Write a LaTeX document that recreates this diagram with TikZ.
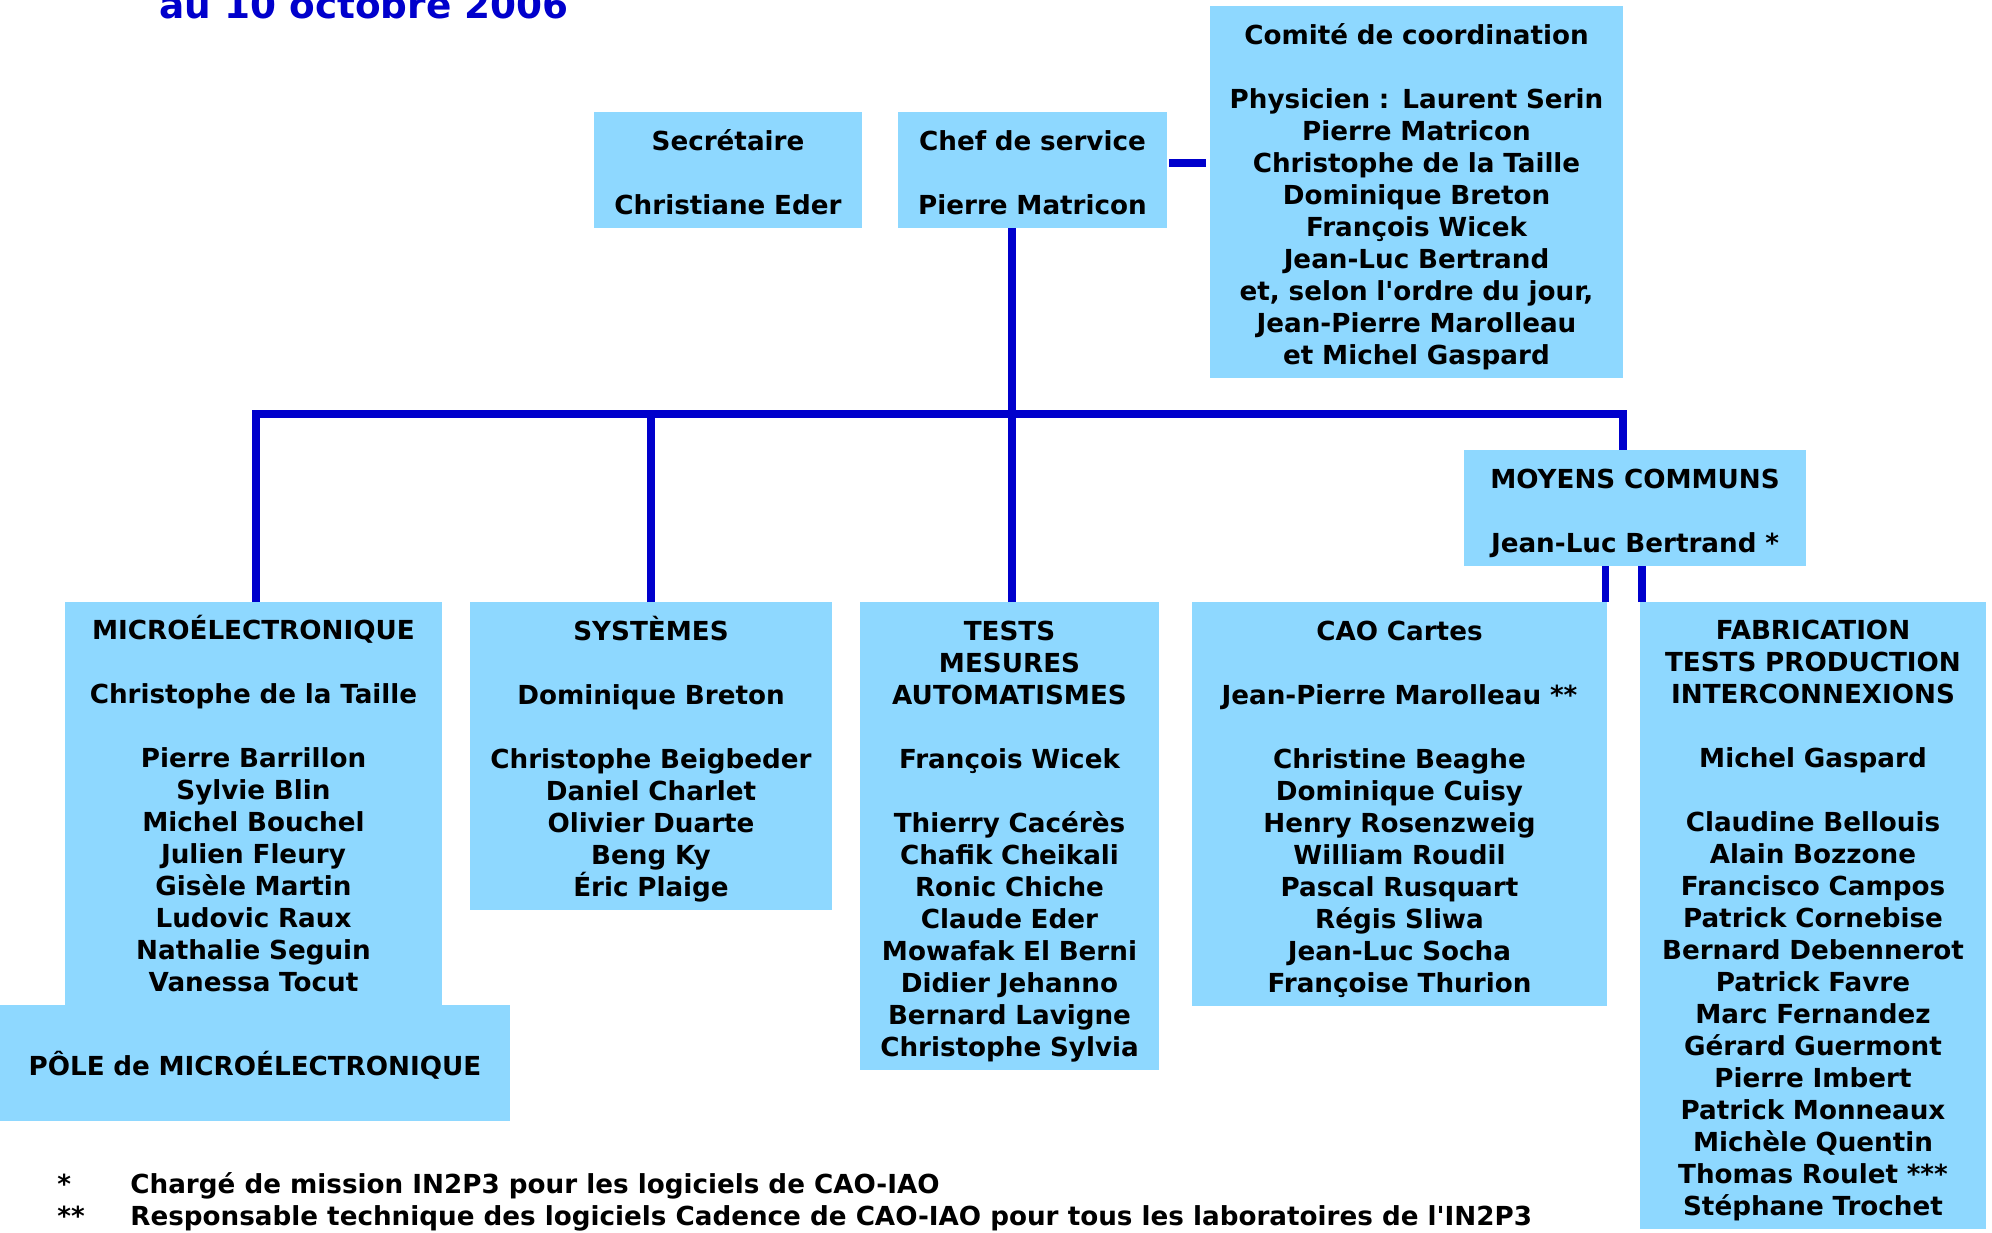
\documentclass[tikz,border=0pt]{standalone}
\usepackage{fontspec}
\setmainfont{DejaVu Sans}
\definecolor{boxblue}{RGB}{142,216,255}
\definecolor{linkblue}{RGB}{0,0,204}
\newcommand{\topstrut}{\rule{0pt}{15.6pt}}
\newcommand{\botstrut}{\rule[-3.2pt]{0pt}{3.2pt}}
\begin{document}
\begin{tikzpicture}[x=0.5pt, y=-0.5pt,
    box/.style={fill=boxblue, anchor=north west, inner sep=0pt, outer sep=0pt, align=center,
        font=\bfseries\fontsize{13.1}{16}\selectfont,
        execute at begin node=\topstrut, execute at end node=\botstrut},
    link/.style={draw=linkblue, line width=3.6pt}]
    \useasboundingbox (0,0) rectangle (1992,1232);

    % titre (coupe en haut)
    \node[anchor=base west, inner sep=0pt, text=linkblue,
        font=\bfseries\fontsize{18.7}{22}\selectfont] (titre) at (159,18) {au 10 octobre 2006};

    % direction
    \node[box, text width=134pt, minimum height=58pt] (secr) at (594,112)
        {Secrétaire\\[16pt]Christiane Eder};
    \node[box, text width=134.5pt, minimum height=58pt] (chef) at (898,112)
        {Chef de service\\[16pt]Pierre Matricon};
    \node[box, text width=206.5pt, minimum height=186pt] (comite) at (1210,6)
        {Comité de coordination\\[16pt]Physicien : Laurent Serin\\Pierre Matricon\\
         Christophe de la Taille\\Dominique Breton\\François Wicek\\Jean-Luc Bertrand\\
         et, selon l\textquotesingle ordre du jour,\\Jean-Pierre Marolleau\\et Michel Gaspard};
    \node[box, text width=171pt, minimum height=58pt] (moyens) at (1464,450)
        {MOYENS COMMUNS\\[16pt]Jean-Luc Bertrand *};

    % groupes
    \node[box, text width=188.5pt, minimum height=201.5pt] (micro) at (65,602)
        {MICROÉLECTRONIQUE\\[16pt]Christophe de la Taille\\[16pt]Pierre Barrillon\\
         Sylvie Blin\\Michel Bouchel\\Julien Fleury\\Gisèle Martin\\Ludovic Raux\\
         Nathalie Seguin\\Vanessa Tocut};
    \node[box, text width=255pt, minimum height=58pt] (pole) at (0,1005)
        {PÔLE de MICROÉLECTRONIQUE};
    \node[box, text width=181pt, minimum height=154pt] (systemes) at (470,602)
        {SYSTÈMES\\[16pt]Dominique Breton\\[16pt]Christophe Beigbeder\\Daniel Charlet\\
         Olivier Duarte\\Beng Ky\\Éric Plaige};
    \node[box, text width=149.5pt, minimum height=234pt] (tests) at (860,602)
        {TESTS\\MESURES\\AUTOMATISMES\\[16pt]François Wicek\\[16pt]Thierry Cacérès\\
         Chafik Cheikali\\Ronic Chiche\\Claude Eder\\Mowafak El Berni\\Didier Jehanno\\
         Bernard Lavigne\\Christophe Sylvia};
    \node[box, text width=207.5pt, minimum height=202pt] (cao) at (1192,602)
        {CAO Cartes\\[16pt]Jean-Pierre Marolleau **\\[16pt]Christine Beaghe\\
         Dominique Cuisy\\Henry Rosenzweig\\William Roudil\\Pascal Rusquart\\
         Régis Sliwa\\Jean-Luc Socha\\Françoise Thurion};
    \node[box, text width=173pt, minimum height=313.5pt] (fab) at (1640,602)
        {FABRICATION\\TESTS PRODUCTION\\INTERCONNEXIONS\\[16pt]Michel Gaspard\\[16pt]
         Claudine Bellouis\\Alain Bozzone\\Francisco Campos\\Patrick Cornebise\\
         Bernard Debennerot\\Patrick Favre\\Marc Fernandez\\Gérard Guermont\\
         Pierre Imbert\\Patrick Monneaux\\Michèle Quentin\\Thomas Roulet ***\\
         Stéphane Trochet};

    % liens
    \coordinate (bus) at (256,414);
    \draw[link] ([xshift=1pt, yshift=3.5pt]chef.east) -- ([xshift=-2pt, yshift=3.5pt]chef.east -| comite.west);
    \draw[link] ([xshift=1.25pt]tests.north) -- ([xshift=1.25pt]tests.north |- chef.south);
    \draw[link] (micro.north -| bus) -- (bus) -| (moyens.north -| comite.east);
    \draw[link] (systemes.north) -- (systemes.north |- bus);
    \draw[link] ([xshift=-0.75pt]cao.north east) -- ([xshift=-0.75pt]cao.north east |- moyens.south);
    \draw[link] ([xshift=1pt]fab.north west) -- ([xshift=1pt]fab.north west |- moyens.south);

    % notes
    \node[anchor=base west, inner sep=0pt, font=\bfseries\fontsize{13.1}{16}\selectfont] (notes) at (57,1193)
        {\begin{tabular}[t]{@{}p{36.5pt}@{}l@{}}
         {*} & Chargé de mission IN2P3 pour les logiciels de CAO-IAO\\
         {**} & Responsable technique des logiciels Cadence de CAO-IAO pour tous les laboratoires de l\textquotesingle IN2P3
         \end{tabular}};
\end{tikzpicture}
\end{document}
